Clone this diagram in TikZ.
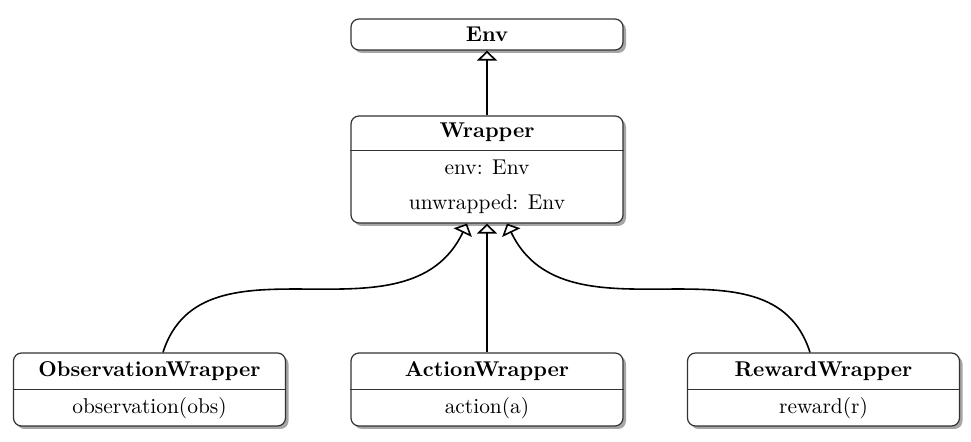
\documentclass[tikz,border=0pt]{standalone}
\usetikzlibrary{shadows,arrows.meta}
\begin{document}
\begin{tikzpicture}[x=0.5pt,y=-0.5pt,
  classbox/.style={draw=black!80, line width=0.6pt, rounded corners=4pt, fill=white,
    minimum width=136pt, inner sep=0pt,
    drop shadow={shadow xshift=1.5pt, shadow yshift=-1.5pt, fill=black!35, opacity=1}},
  classname/.style={anchor=base, font=\fontsize{10.7}{12.8}\selectfont\bfseries},
  member/.style={anchor=base, font=\fontsize{10.7}{12.8}\selectfont},
  divider/.style={draw=black!80, line width=0.6pt},
  inherit/.style={line width=0.8pt, -{Triangle[open, length=5pt, width=10pt]}}]
  \useasboundingbox (0,0) rectangle (971,442);

  % base class
  \node[classbox, minimum height=15.5pt] (env) at (487,34.5) {};
  \node[classname] (envname) at (487,42) {Env};

  % wrapper
  \node[classbox, minimum height=53.5pt] (wrapper) at (487,169.5) {};
  \node[classname] (wrappername) at (487,138) {Wrapper};
  \draw[divider] ([yshift=-17.5pt]wrapper.north west) -- ([yshift=-17.5pt]wrapper.north east);
  \node[member] (wrapperenv) at (487,175) {env: Env};
  \node[member] (wrapperunw) at (487,210) {unwrapped: Env};

  % subclasses
  \node[classbox, minimum height=36.5pt] (obs) at (149.5,389.5) {};
  \node[classname] (obsname) at (149.5,377) {ObservationWrapper};
  \draw[divider] ([yshift=-18.5pt]obs.north west) -- ([yshift=-18.5pt]obs.north east);
  \node[member] (obsfun) at (149.5,414) {observation(obs)};

  \node[classbox, minimum height=36.5pt] (action) at (487,389.5) {};
  \node[classname] (actionname) at (487,377) {ActionWrapper};
  \draw[divider] ([yshift=-18.5pt]action.north west) -- ([yshift=-18.5pt]action.north east);
  \node[member] (actionfun) at (487,414) {action(a)};

  \node[classbox, minimum height=36.5pt] (reward) at (823.5,389.5) {};
  \node[classname] (rewardname) at (823.5,377) {RewardWrapper};
  \draw[divider] ([yshift=-18.5pt]reward.north west) -- ([yshift=-18.5pt]reward.north east);
  \node[member] (rewardfun) at (823.5,414) {reward(r)};

  % inheritance
  \draw[inherit] (wrapper.north) -- (env.south);
  \draw[inherit] (action.north) -- (wrapper.south);
  \draw[inherit] ([xshift=6.75pt]obs.north) .. controls +(40,-126) and +(-60,126) .. ([xshift=-10pt]wrapper.south);
  \draw[inherit] ([xshift=-6.75pt]reward.north) .. controls +(-40,-126) and +(60,126) .. ([xshift=10pt]wrapper.south);
\end{tikzpicture}
\end{document}
